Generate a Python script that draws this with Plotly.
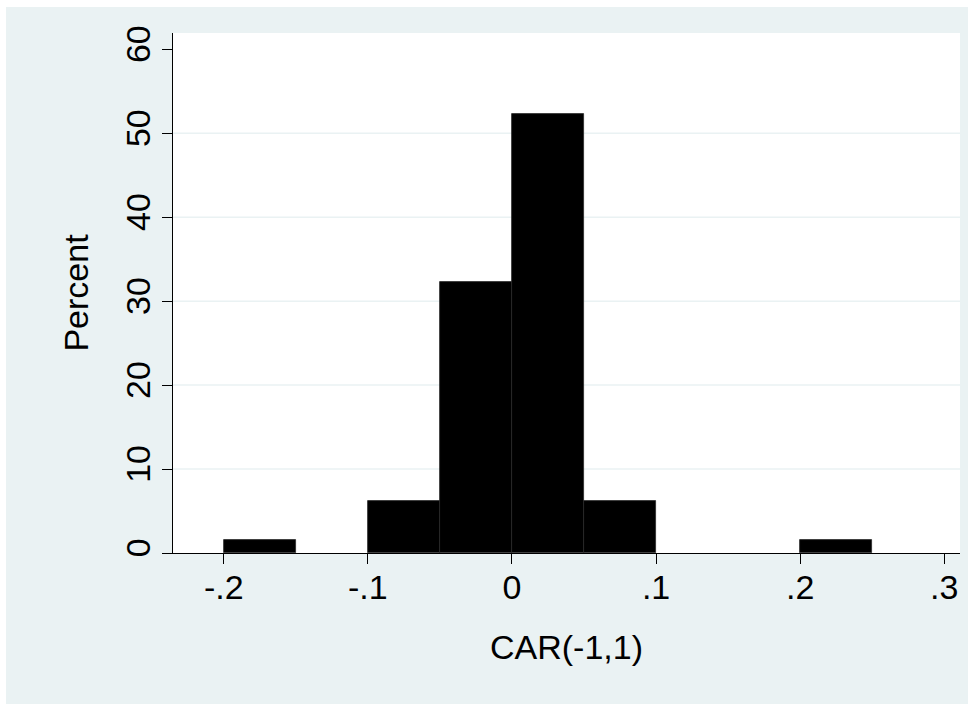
import plotly.graph_objects as go

# Data (percent of observations per bin)
bin_start = [-0.20, -0.10, -0.05, 0.00, 0.05, 0.20]
bin_end = [-0.15, -0.05, 0.00, 0.05, 0.10, 0.25]
percent = [1.54, 6.15, 32.31, 52.31, 6.15, 1.54]
x_ticks = [-0.2, -0.1, 0, 0.1, 0.2, 0.3]
x_tick_labels = ["-.2", "-.1", "0", ".1", ".2", ".3"]
y_ticks = [0, 10, 20, 30, 40, 50, 60]
y_grid = [10, 20, 30, 40, 50]

centers = [(a + b) / 2 for a, b in zip(bin_start, bin_end)]
widths = [b - a for a, b in zip(bin_start, bin_end)]

BG = "#EAF2F3"
FONT = "Liberation Sans, Arial, Helvetica, sans-serif"
FS = 34

fig = go.Figure()
fig.add_trace(go.Bar(
    x=centers, y=percent, width=widths,
    marker=dict(color="black", line=dict(color="#2a2a2a", width=0.8)),
    showlegend=False, hoverinfo="x+y",
))

shapes = [
    dict(type="rect", xref="paper", yref="paper", x0=-0.2122, x1=1.0102,
         y0=-0.2904, y1=1.05, fillcolor=BG, line=dict(width=0), layer="below"),
    dict(type="rect", xref="paper", yref="paper", x0=0, x1=1, y0=0, y1=1,
         fillcolor="white", line=dict(width=0), layer="below"),
]
for g in y_grid:
    shapes.append(dict(type="line", xref="paper", yref="y", x0=0, x1=1, y0=g, y1=g,
                       line=dict(color=BG, width=1.5), layer="below"))

fig.update_layout(
    width=974, height=711,
    margin=dict(l=173, r=14, t=33, b=158),
    paper_bgcolor="white", plot_bgcolor="rgba(0,0,0,0)",
    font=dict(family=FONT, size=FS, color="black"),
    shapes=shapes,
    bargap=0,
    xaxis=dict(
        range=[-0.2352, 0.3109], tickvals=x_ticks, ticktext=x_tick_labels,
        showgrid=False, zeroline=False, showline=True, linecolor="black", linewidth=1.3,
        ticks="outside", ticklen=10, tickwidth=1.3, tickcolor="black",
        tickfont=dict(family=FONT, size=FS), ticklabelstandoff=-6,
        title=dict(text="CAR(-1,1)", font=dict(family=FONT, size=FS), standoff=30),
    ),
    yaxis=dict(
        range=[0, 61.94], tickvals=y_ticks, tickangle=-90,
        showgrid=False, zeroline=False, showline=True, linecolor="black", linewidth=1.3,
        ticks="outside", ticklen=10, tickwidth=1.3, tickcolor="black",
        tickfont=dict(family=FONT, size=FS), ticklabelstandoff=-2,
        title=dict(text="Percent", font=dict(family=FONT, size=FS), standoff=20),
    ),
)

fig.write_html(
    "out.html",
    config={"displayModeBar": False},
    post_script="document.body.style.margin='0';document.body.style.overflow='hidden';",
)
